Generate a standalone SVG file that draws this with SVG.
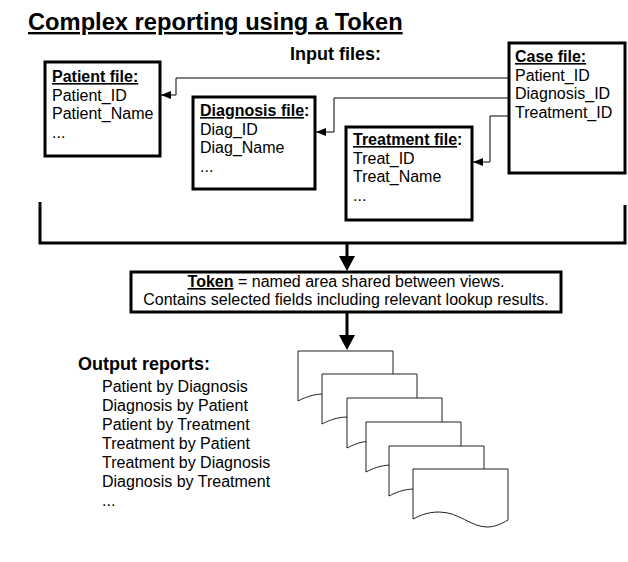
<svg xmlns="http://www.w3.org/2000/svg" width="628" height="562" viewBox="0 0 628 562">
<style>
  text { font-family: "Liberation Sans", Arial, sans-serif; fill: #000; }
  .title { font-size: 23.7px; font-weight: bold; text-decoration: underline; }
  .head { font-size: 18px; font-weight: bold; }
  .t { font-size: 16px; }
  .b { font-weight: bold; text-decoration: underline; }
  .box { fill: #fff; stroke: #000; stroke-width: 3; }
  .thin { fill: none; stroke: #000; stroke-width: 1; }
  .thick { fill: none; stroke: #000; stroke-width: 3; }
  .doc { fill: #fff; stroke: #222; stroke-width: 1; }
</style>
<defs>
  <marker id="ah" markerUnits="userSpaceOnUse" markerWidth="10" markerHeight="8" refX="10" refY="4" orient="auto">
    <path d="M0,0 L10,4 L0,8 Z" fill="#000"/>
  </marker>
  <marker id="AH" markerUnits="userSpaceOnUse" markerWidth="16" markerHeight="16" refX="7" refY="8" orient="auto">
    <path d="M0,0 L15,8 L0,16 Z" fill="#000"/>
  </marker>
  <path id="docshape" d="M0,0 H95 V51 C88,55 82,58 74,58 C58,58 46,43 26,43 C14,43 6,47 0,50 Z"/>
</defs>
<rect width="628" height="562" fill="#fff"/>

<text class="title" x="28" y="30">Complex reporting using a Token</text>
<text class="head" x="290" y="60">Input files:</text>

<g id="connectors">
  <path class="thin" d="M509,78 H176 V95 H161" marker-end="url(#ah)"/>
  <path class="thin" d="M509,98 H334 V132 H316" marker-end="url(#ah)"/>
  <path class="thin" d="M509,116 H490 V162 H473" marker-end="url(#ah)"/>
  <path class="thick" d="M40,202 V243 H625 V205"/>
  <path class="thick" d="M347,243 V263" marker-end="url(#AH)"/>
  <path class="thick" d="M347,312 V342" marker-end="url(#AH)"/>
</g>

<g id="patient-file">
  <rect class="box" x="45" y="62" width="115" height="94"/>
  <text class="t" x="52" y="82"><tspan class="b">Patient file:</tspan></text>
  <text class="t" x="52" y="100.5">Patient_ID</text>
  <text class="t" x="52" y="119">Patient_Name</text>
  <text class="t" x="52" y="137.5">...</text>
</g>

<g id="diagnosis-file">
  <rect class="box" x="193" y="97" width="122" height="92"/>
  <text class="t" x="200" y="116"><tspan class="b">Diagnosis file</tspan><tspan font-weight="bold">:</tspan></text>
  <text class="t" x="200" y="134.5">Diag_ID</text>
  <text class="t" x="200" y="153">Diag_Name</text>
  <text class="t" x="200" y="171.5">...</text>
</g>

<g id="treatment-file">
  <rect class="box" x="346" y="127" width="126" height="93"/>
  <text class="t" x="353" y="145"><tspan class="b">Treatment file</tspan><tspan font-weight="bold">:</tspan></text>
  <text class="t" x="353" y="163.5">Treat_ID</text>
  <text class="t" x="353" y="182">Treat_Name</text>
  <text class="t" x="353" y="200.5">...</text>
</g>

<g id="case-file">
  <rect class="box" x="509" y="43" width="116" height="130"/>
  <text class="t" x="515" y="62"><tspan class="b">Case file:</tspan></text>
  <text class="t" x="515" y="80.5">Patient_ID</text>
  <text class="t" x="515" y="99">Diagnosis_ID</text>
  <text class="t" x="515" y="117.5">Treatment_ID</text>
</g>

<g id="token">
  <rect class="box" x="131" y="272" width="430" height="40"/>
  <text class="t" x="346" y="287" text-anchor="middle"><tspan class="b">Token</tspan> = named area shared between views.</text>
  <text class="t" x="346" y="305" text-anchor="middle">Contains selected fields including relevant lookup results.</text>
</g>

<g id="output-reports">
  <text class="head" x="78" y="370">Output reports:</text>
  <text class="t" x="102" y="392">Patient by Diagnosis</text>
  <text class="t" x="102" y="411">Diagnosis by Patient</text>
  <text class="t" x="102" y="430">Patient by Treatment</text>
  <text class="t" x="102" y="449">Treatment by Patient</text>
  <text class="t" x="102" y="468">Treatment by Diagnosis</text>
  <text class="t" x="102" y="487">Diagnosis by Treatment</text>
  <text class="t" x="102" y="506">...</text>
</g>

<g id="documents">
  <use href="#docshape" class="doc" x="298" y="351"/>
  <use href="#docshape" class="doc" x="322" y="374"/>
  <use href="#docshape" class="doc" x="347" y="398"/>
  <use href="#docshape" class="doc" x="366" y="422"/>
  <use href="#docshape" class="doc" x="389" y="446"/>
  <use href="#docshape" class="doc" x="413" y="469"/>
</g>
</svg>
